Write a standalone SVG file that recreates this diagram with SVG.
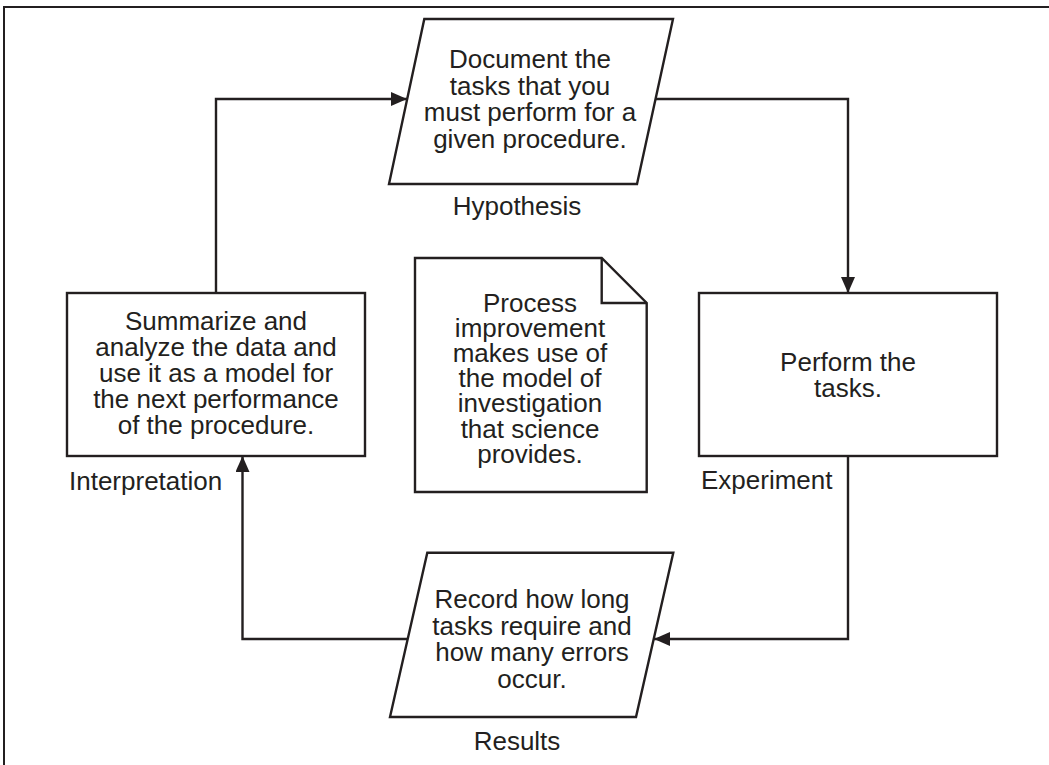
<svg xmlns="http://www.w3.org/2000/svg" width="1049" height="765" viewBox="0 0 1049 765">
  <style>
    .shape { fill: #ffffff; stroke: #231f20; stroke-width: 2.4; stroke-linejoin: miter; }
    .conn { fill: none; stroke: #231f20; stroke-width: 2.4; }
    .frame { fill: none; stroke: #231f20; stroke-width: 2; }
    text { font-family: "Liberation Sans", Arial, Helvetica, sans-serif; font-size: 26px; fill: #231f20; }
    .c { text-anchor: middle; }
  </style>
  <defs>
    <marker id="arrow" markerUnits="userSpaceOnUse" markerWidth="18" markerHeight="14" refX="16" refY="7" orient="auto">
      <path d="M0,0 L16,7 L0,14 Z" fill="#231f20"/>
    </marker>
  </defs>

  <rect width="1049" height="765" fill="#ffffff"/>
  <path class="frame" d="M4,770 L4,7 L1052,7"/>

  <g id="connectors">
    <path class="conn" d="M216,293 L216,99 L407,99" marker-end="url(#arrow)"/>
    <path class="conn" d="M655.5,99 L848,99 L848,293" marker-end="url(#arrow)"/>
    <path class="conn" d="M848,456 L848,639 L654,639" marker-end="url(#arrow)"/>
    <path class="conn" d="M407.7,639 L242.5,639 L242.5,456" marker-end="url(#arrow)"/>
  </g>

  <g id="hypothesis">
    <polygon class="shape" points="424.3,19 673,19 637,184 389,184"/>
    <text class="c" x="530" y="68">Document the</text>
    <text class="c" x="530" y="94.5">tasks that you</text>
    <text class="c" x="530" y="121">must perform for a</text>
    <text class="c" x="530" y="147.5">given procedure.</text>
    <text class="c" x="517" y="215">Hypothesis</text>
  </g>

  <g id="experiment">
    <rect class="shape" x="699" y="293" width="298" height="163"/>
    <text class="c" x="848" y="370.5">Perform the</text>
    <text class="c" x="848" y="397">tasks.</text>
    <text x="701" y="489">Experiment</text>
  </g>

  <g id="results">
    <polygon class="shape" points="427.3,552.7 673.3,552.7 636,717 390,717"/>
    <text class="c" x="532" y="608">Record how long</text>
    <text class="c" x="532" y="634.5">tasks require and</text>
    <text class="c" x="532" y="661">how many errors</text>
    <text class="c" x="532" y="687.5">occur.</text>
    <text class="c" x="517" y="750">Results</text>
  </g>

  <g id="interpretation">
    <rect class="shape" x="67" y="293" width="298" height="163"/>
    <text class="c" x="216" y="330">Summarize and</text>
    <text class="c" x="216" y="356">analyze the data and</text>
    <text class="c" x="216" y="382">use it as a model for</text>
    <text class="c" x="216" y="408">the next performance</text>
    <text class="c" x="216" y="434">of the procedure.</text>
    <text x="69" y="490">Interpretation</text>
  </g>

  <g id="note">
    <path class="shape" d="M415,258 L601.7,258 L646.7,303 L646.7,492 L415,492 Z"/>
    <path class="conn" d="M601.7,258 L601.7,303 L646.7,303"/>
    <text class="c" x="530" y="311.5">Process</text>
    <text class="c" x="530" y="336.7">improvement</text>
    <text class="c" x="530" y="361.9">makes use of</text>
    <text class="c" x="530" y="387.1">the model of</text>
    <text class="c" x="530" y="412.3">investigation</text>
    <text class="c" x="530" y="437.5">that science</text>
    <text class="c" x="530" y="462.7">provides.</text>
  </g>
</svg>
